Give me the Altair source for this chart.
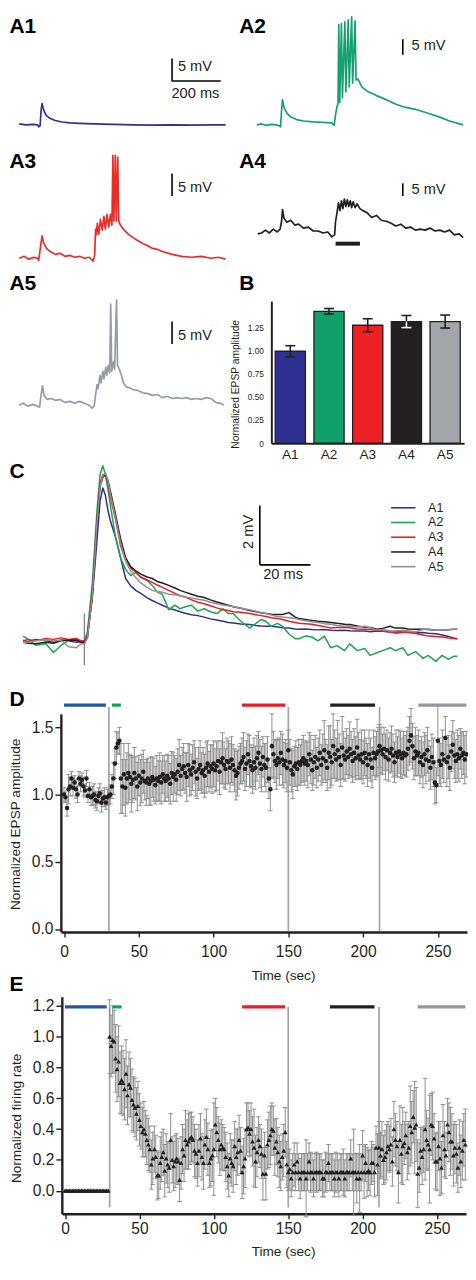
import altair as alt
import pandas as pd

# ======================= DATA =======================
# --- A panels: membrane potential traces (time in ms, mV above baseline)
A1_t = [0, 28, 56, 76, 80, 86, 90, 94, 98, 104, 112, 128, 148, 176, 208, 248, 308, 388, 468, 548, 628, 708, 788, 848]
A1_v = [0.22, 0.0, 0.1, 0.0, -0.43, -0.2, 3.26, 4.78, 3.9, 2.83, 2.07, 1.41, 0.98, 0.65, 0.43, 0.33, 0.22, 0.11, 0.0, -0.07, 0.0, -0.04, 0.0, 0.0]

A2_t = [0, 20, 40, 60, 80, 92, 98, 102, 106, 112, 124, 140, 164, 192, 232, 272, 308, 318, 324, 330,
        334, 337, 341, 348, 352, 362, 366, 376, 380, 390, 394, 404, 408, 416, 432, 452, 492, 532, 572, 612,
        652, 704, 752, 792, 848]
A2_v = [0.0, 0.3, -0.16, 0.16, 0.0, -0.3, -0.6, 4.7, 8.1, 5.6, 3.75, 2.5, 1.7, 1.25, 0.94, 0.78, 0.63, -0.16, 3.4, 5.9,
        6.9, 32.2, 7.2, 32.5, 8.75, 33.1, 10.6, 33.75, 12.2, 34.7, 13.4, 33.4, 14.4, 14.7, 12.2, 10.9, 9.4, 8.1, 6.6, 5.6,
        5.0, 3.75, 2.5, 1.25, 0.0]

A3_t = [0, 20, 40, 60, 76, 80, 90, 94, 100, 112, 128, 148, 168, 188, 208, 228, 248, 268, 288, 304,
        310, 314, 317, 321, 327, 334, 341, 348, 354, 361, 368, 375, 381, 385, 389, 395, 399, 405, 409, 416,
        428, 448, 468, 488, 508, 528, 548, 568, 588, 628, 668, 708, 748, 788, 820, 848]
A3_v = [0.0, 0.43, -0.2, 0.2, 0.0, -0.43, 3.5, 5.0, 3.5, 2.2, 1.5, 0.87, 1.1, 0.43, 0.65, 0.22, 0.43, 0.0, 0.22, -0.65,
        0.65, 6.5, 5.2, 7.8, 5.4, 8.7, 6.3, 9.35, 6.5, 9.8, 7.0, 9.8, 7.4, 23.0, 8.3, 23.0, 8.3, 22.6, 8.3, 7.4,
        6.5, 5.4, 4.6, 3.9, 3.3, 2.8, 2.2, 2.0, 1.5, 0.87, 0.43, 0.22, 0.43, 0.0, 0.22, -0.2]

A4_t = [4, 20, 36, 52, 68, 84, 96, 102, 106, 112, 124, 140, 156, 172, 192, 212, 232, 252, 272, 292,
        308, 320, 324, 330, 336, 342, 348, 354, 360, 366, 372, 378, 384, 390, 396, 404, 412, 424, 436, 452,
        472, 492, 512, 532, 552, 572, 592, 612, 632, 652, 672, 692, 712, 732, 752, 772, 792, 812, 832, 848]
A4_v = [0.0, 0.38, 1.5, 0.38, 1.9, 0.77, 1.9, 5.0, 9.6, 6.2, 4.6, 5.4, 3.5, 3.85, 2.3, 2.7, 1.15, 1.15, 0.38, 0.77,
        -1.15, -0.38, 5.0, 8.5, 12.3, 9.2, 13.1, 10.0, 13.8, 10.8, 13.5, 10.8, 13.1, 10.4, 12.7, 10.4, 11.9, 10.0, 9.2, 8.5,
        6.5, 7.3, 5.4, 5.0, 4.2, 3.1, 3.85, 2.3, 2.7, 1.5, 1.9, 1.5, 2.3, 1.15, 1.5, 0.77, 1.5, -0.38, 0.0, -1.5]
A4_stim = [324, 424]   # ms, black bar under A4

A5_t = [0, 16, 36, 56, 76, 84, 90, 96, 102, 116, 132, 148, 168, 188, 208, 228, 248, 268, 288, 300,
        308, 314, 320, 324, 332, 336, 344, 348, 356, 360, 366, 372, 376, 380, 388, 392, 400, 404, 412, 420,
        428, 440, 452, 468, 488, 508, 528, 548, 568, 588, 608, 628, 648, 668, 688, 708, 728, 748, 768, 788,
        808, 828, 840]
A5_v = [0.0, 0.43, -0.2, 0.2, -0.2, -0.43, 2.4, 4.35, 2.2, 1.3, 1.5, 1.1, 1.3, 0.65, 0.87, 0.43, 0.87, 0.43, 0.0, -0.65,
        -0.2, 2.4, 4.6, 3.7, 6.7, 5.0, 7.6, 5.9, 8.5, 6.7, 8.9, 7.2, 22.6, 7.6, 9.8, 8.0, 23.5, 8.9, 8.0, 6.7,
        5.0, 4.1, 3.9, 3.5, 3.3, 2.8, 2.6, 2.2, 2.4, 1.7, 2.0, 1.5, 1.7, 1.5, 1.7, 1.3, 1.5, 1.3, 1.7, 1.5,
        0.65, 0.43, 0.0]

# --- B: bar chart
B_labels = ["A1", "A2", "A3", "A4", "A5"]
B_values = [0.99, 1.42, 1.27, 1.31, 1.31]
B_errors = [0.06, 0.03, 0.07, 0.065, 0.07]
B_ticks = [0, 0.25, 0.5, 0.75, 1.0, 1.25]

# --- C: averaged EPSPs (ms, mV)
C_names = ["A1", "A2", "A3", "A4", "A5"]
C_t = [0, 2, 5, 9, 12, 15, 18, 21, 23, 24.2,
       25.4, 27.3, 29.2, 30.4, 31.5, 32.5, 33.5, 34.6, 36.5, 38.5,
       40.5, 42.5, 44.5, 46.5, 49, 51, 53, 55, 57.5, 60,
       62, 64, 66.5, 69, 71.5, 74, 76.5, 79, 81, 83,
       86, 89.5, 92, 94, 96, 98, 100.5, 102.5, 105, 107.5,
       109, 111.5, 114, 116.5, 119, 121.5, 124, 127, 129, 132,
       135, 137, 140, 142, 145, 147, 150, 152, 155, 158,
       160, 163, 165.5, 168, 170, 171.5]
C_A1 = [0.02, -0.03, 0.05, 0.0, -0.05, 0.03, 0.0, -0.05, -0.03, -0.1,
        0.2, 1.4, 3.4, 4.7, 5.15, 4.9, 4.4, 4.0, 3.5, 2.8,
        2.1, 1.85, 1.7, 1.6, 1.45, 1.36, 1.28, 1.2, 1.1, 1.04,
        0.98, 0.93, 0.88, 0.85, 0.8, 0.74, 0.7, 0.66, 0.62, 0.6,
        0.57, 0.55, 0.52, 0.5, 0.49, 0.49, 0.47, 0.44, 0.43, 0.4,
        0.39, 0.4, 0.38, 0.37, 0.38, 0.36, 0.35, 0.36, 0.34, 0.33,
        0.33, 0.31, 0.33, 0.32, 0.3, 0.31, 0.3, 0.28, 0.27, 0.28,
        0.26, 0.24, 0.2, 0.15, 0.1, 0.07]
C_A2 = [0.16, 0.05, -0.15, -0.1, -0.39, -0.15, 0.02, 0.06, -0.05, 0.0,
        0.3, 1.9, 4.4, 5.6, 5.9, 5.6, 5.1, 4.5, 3.5, 2.8,
        2.4, 2.2, 2.3, 2.13, 2.03, 1.87, 1.64, 1.57, 1.05, 1.2,
        1.08, 1.15, 1.2, 1.0, 1.08, 0.98, 0.92, 1.08, 0.92, 0.92,
        0.66, 0.43, 0.59, 0.72, 0.65, 0.49, 0.59, 0.49, 0.23, 0.07,
        0.07, 0.16, 0.13, 0.0, 0.16, -0.23, -0.16, -0.33, -0.1, -0.33,
        -0.26, -0.49, -0.39, -0.33, -0.23, -0.33, -0.23, -0.49, -0.36, -0.59,
        -0.49, -0.69, -0.49, -0.62, -0.52, -0.52]
C_A3 = [0.0, 0.05, 0.0, 0.08, 0.05, 0.1, 0.05, 0.08, 0.0, 0.0,
        0.15, 1.6, 4.1, 5.3, 5.6, 5.6, 5.3, 4.8, 4.1, 3.2,
        2.7, 2.45, 2.3, 2.15, 2.05, 1.97, 1.88, 1.8, 1.7, 1.6,
        1.52, 1.48, 1.38, 1.3, 1.25, 1.18, 1.11, 1.05, 1.02, 0.98,
        0.96, 0.92, 0.88, 0.85, 0.82, 0.78, 0.75, 0.72, 0.66, 0.62,
        0.59, 0.58, 0.56, 0.52, 0.48, 0.43, 0.45, 0.46, 0.44, 0.4,
        0.39, 0.38, 0.36, 0.33, 0.3, 0.26, 0.28, 0.3, 0.25, 0.2,
        0.16, 0.15, 0.13, 0.1, 0.08, 0.07]
C_A4 = [-0.05, -0.08, -0.1, -0.05, -0.08, 0.0, 0.03, 0.02, -0.05, -0.05,
        0.1, 1.5, 4.0, 5.2, 5.5, 5.6, 5.4, 5.0, 4.26, 3.44,
        2.8, 2.5, 2.36, 2.25, 2.15, 2.1, 2.0, 1.95, 1.87, 1.78,
        1.7, 1.64, 1.57, 1.5, 1.46, 1.38, 1.31, 1.25, 1.2, 1.15,
        1.1, 1.02, 0.98, 0.95, 0.92, 0.9, 0.89, 0.89, 0.95, 0.8,
        0.75, 0.72, 0.69, 0.66, 0.64, 0.62, 0.59, 0.56, 0.55, 0.5,
        0.46, 0.45, 0.39, 0.42, 0.49, 0.43, 0.43, 0.4, 0.39, 0.39,
        0.38, 0.36, 0.36, 0.37, 0.39, 0.39]
C_A5 = [-0.05, -0.05, 0.0, 0.03, 0.0, 0.02, -0.2, -0.23, -0.1, -0.1,
        0.1, 1.5, 4.0, 5.2, 5.55, 5.67, 5.4, 4.9, 4.16, 3.28,
        2.7, 2.35, 2.13, 1.95, 1.8, 1.7, 1.66, 1.64, 1.57, 1.55,
        1.52, 1.48, 1.44, 1.4, 1.37, 1.3, 1.25, 1.21, 1.18, 1.16,
        1.1, 1.05, 1.0, 0.95, 0.92, 0.87, 0.82, 0.8, 0.78, 0.75,
        0.72, 0.68, 0.64, 0.62, 0.58, 0.56, 0.52, 0.49, 0.5, 0.47,
        0.49, 0.44, 0.36, 0.38, 0.33, 0.33, 0.36, 0.34, 0.3, 0.39,
        0.4, 0.36, 0.36, 0.38, 0.39, 0.39]
C_stim_t = 24.2

# --- D / E: time courses (one point per second)
T_sec = list(range(270))
epoch_start = [0, 32, 119, 178, 237]
epoch_end = [28, 38, 148, 208, 269]
stim_times = [30, 150, 211]
time_ticks = [0, 50, 100, 150, 200, 250]
D_ticks = [0.0, 0.5, 1.0, 1.5]
E_ticks = [0.0, 0.2, 0.4, 0.6, 0.8, 1.0, 1.2]

D_mean = [1.00, 0.98, 0.90, 1.04, 1.06, 1.12, 1.05, 1.09, 1.04, 1.00,
          1.12, 1.08, 1.11, 1.06, 1.03, 1.12, 0.99, 1.04, 0.98, 0.99,
          1.00, 0.96, 0.95, 0.99, 1.01, 0.94, 0.97, 0.98, 0.94, 0.98,
          0.99, 1.00, 1.06, 1.12, 1.23, 1.35, 1.38, 1.40, 1.12, 1.06,
          1.15, 1.05, 1.12, 1.16, 1.13, 1.08, 1.11, 1.16, 1.12, 1.06,
          1.14, 1.09, 1.12, 1.17, 1.10, 1.09, 1.12, 1.08, 1.10, 1.13,
          1.11, 1.07, 1.12, 1.10, 1.13, 1.09, 1.15, 1.12, 1.10, 1.14,
          1.12, 1.08, 1.16, 1.13, 1.15, 1.11, 1.17, 1.22, 1.14, 1.19,
          1.21, 1.16, 1.13, 1.22, 1.18, 1.15, 1.20, 1.24, 1.17, 1.12,
          1.19, 1.22, 1.16, 1.18, 1.14, 1.20, 1.23, 1.17, 1.21, 1.19,
          1.23, 1.18, 1.21, 1.25, 1.17, 1.24, 1.27, 1.22, 1.19, 1.25,
          1.24, 1.20, 1.26, 1.22, 1.18, 1.14, 1.16, 1.20, 1.23, 1.25,
          1.28, 1.19, 1.23, 1.30, 1.25, 1.21, 1.18, 1.24, 1.20, 1.27,
          1.31, 1.23, 1.19, 1.28, 1.22, 1.20, 1.26, 1.12, 1.04, 1.36,
          1.30, 1.25, 1.22, 1.27, 1.24, 1.31, 1.26, 1.22, 1.25, 1.20,
          1.33, 1.24, 1.18, 1.15, 1.21, 1.23, 1.19, 1.24, 1.22, 1.25,
          1.27, 1.23, 1.25, 1.22, 1.30, 1.26, 1.18, 1.24, 1.28, 1.20,
          1.26, 1.31, 1.22, 1.27, 1.33, 1.25, 1.20, 1.31, 1.28, 1.24,
          1.36, 1.30, 1.26, 1.33, 1.28, 1.22, 1.35, 1.29, 1.26, 1.32,
          1.28, 1.34, 1.30, 1.25, 1.31, 1.27, 1.35, 1.29, 1.26, 1.30,
          1.24, 1.31, 1.27, 1.22, 1.30, 1.26, 1.20, 1.31, 1.27, 1.30,
          1.32, 1.36, 1.33, 1.30, 1.34, 1.28, 1.33, 1.26, 1.31, 1.34,
          1.29, 1.24, 1.31, 1.28, 1.32, 1.30, 1.27, 1.31, 1.29, 1.30,
          1.34, 1.40, 1.44, 1.36, 1.27, 1.32, 1.29, 1.31, 1.24, 1.28,
          1.22, 1.30, 1.26, 1.33, 1.25, 1.20, 1.28, 1.24, 1.09, 1.07,
          1.40, 1.25, 1.22, 1.30, 1.26, 1.42, 1.24, 1.28, 1.20, 1.32,
          1.37, 1.29, 1.25, 1.30, 1.27, 1.34, 1.29, 1.31, 1.26, 1.30]
D_err = [0.05, 0.04, 0.06, 0.11, 0.07, 0.05, 0.06, 0.05, 0.07, 0.06,
         0.05, 0.06, 0.05, 0.07, 0.05, 0.06, 0.05, 0.05, 0.06, 0.07,
         0.08, 0.06, 0.07, 0.06, 0.07, 0.07, 0.06, 0.07, 0.05, 0.06,
         0.06, 0.07, 0.09, 0.12, 0.11, 0.12, 0.08, 0.10, 0.26, 0.20,
         0.23, 0.21, 0.19, 0.22, 0.17, 0.21, 0.17, 0.19, 0.16, 0.18,
         0.15, 0.17, 0.18, 0.16, 0.14, 0.17, 0.15, 0.16, 0.18, 0.15,
         0.16, 0.14, 0.17, 0.15, 0.18, 0.16, 0.14, 0.17, 0.15, 0.16,
         0.17, 0.15, 0.16, 0.18, 0.14, 0.16, 0.17, 0.19, 0.15, 0.16,
         0.17, 0.15, 0.18, 0.16, 0.19, 0.15, 0.17, 0.16, 0.18, 0.15,
         0.16, 0.18, 0.15, 0.17, 0.16, 0.19, 0.17, 0.15, 0.16, 0.18,
         0.17, 0.16, 0.18, 0.15, 0.17, 0.16, 0.19, 0.17, 0.15, 0.17,
         0.16, 0.18, 0.17, 0.15, 0.16, 0.18, 0.17, 0.16, 0.15, 0.17,
         0.18, 0.16, 0.17, 0.15, 0.19, 0.16, 0.17, 0.18, 0.16, 0.17,
         0.16, 0.18, 0.17, 0.15, 0.16, 0.18, 0.17, 0.15, 0.16, 0.24,
         0.17, 0.16, 0.18, 0.15, 0.17, 0.16, 0.19, 0.17, 0.16, 0.18,
         0.15, 0.17, 0.16, 0.18, 0.15, 0.17, 0.16, 0.17, 0.15, 0.16,
         0.17, 0.16, 0.15, 0.17, 0.16, 0.18, 0.15, 0.17, 0.16, 0.15,
         0.16, 0.17, 0.15, 0.18, 0.22, 0.16, 0.17, 0.20, 0.23, 0.17,
         0.24, 0.18, 0.16, 0.22, 0.17, 0.16, 0.23, 0.18, 0.16, 0.17,
         0.16, 0.20, 0.17, 0.16, 0.18, 0.16, 0.21, 0.17, 0.15, 0.18,
         0.16, 0.17, 0.15, 0.16, 0.18, 0.16, 0.15, 0.17, 0.16, 0.17,
         0.18, 0.16, 0.17, 0.15, 0.16, 0.17, 0.15, 0.16, 0.15, 0.17,
         0.16, 0.15, 0.17, 0.15, 0.16, 0.17, 0.15, 0.16, 0.15, 0.17,
         0.16, 0.18, 0.20, 0.17, 0.16, 0.18, 0.15, 0.17, 0.16, 0.15,
         0.17, 0.16, 0.18, 0.17, 0.15, 0.16, 0.17, 0.18, 0.16, 0.13,
         0.26, 0.17, 0.16, 0.18, 0.17, 0.16, 0.18, 0.16, 0.17, 0.15,
         0.18, 0.17, 0.16, 0.18, 0.17, 0.15, 0.17, 0.16, 0.18, 0.17]

E_mean = [0.0, 0.0, 0.0, 0.0, 0.0, 0.0, 0.0, 0.0, 0.0, 0.0,
          0.0, 0.0, 0.0, 0.0, 0.0, 0.0, 0.0, 0.0, 0.0, 0.0,
          0.0, 0.0, 0.0, 0.0, 0.0, 0.0, 0.0, 0.0, 0.0, 0.0,
          1.00, 0.94, 0.98, 0.97, 0.86, 0.79, 0.84, 0.70, 0.72, 0.70,
          0.66, 0.76, 0.62, 0.69, 0.67, 0.59, 0.56, 0.54, 0.50, 0.55,
          0.46, 0.42, 0.38, 0.40, 0.37, 0.33, 0.30, 0.27, 0.17, 0.21,
          0.27, 0.22, 0.10, 0.10, 0.18, 0.22, 0.25, 0.13, 0.21, 0.17,
          0.15, 0.33, 0.20, 0.16, 0.19, 0.21, 0.19, 0.07, 0.18, 0.27,
          0.23, 0.33, 0.30, 0.32, 0.34, 0.35, 0.33, 0.26, 0.24, 0.18,
          0.26, 0.34, 0.22, 0.18, 0.30, 0.35, 0.27, 0.18, 0.21, 0.23,
          0.27, 0.43, 0.38, 0.33, 0.27, 0.30, 0.28, 0.27, 0.22, 0.16,
          0.10, 0.21, 0.18, 0.16, 0.29, 0.22, 0.25, 0.33, 0.26, 0.12,
          0.16, 0.21, 0.40, 0.41, 0.37, 0.40, 0.32, 0.28, 0.19, 0.25,
          0.33, 0.29, 0.24, 0.11, 0.23, 0.11, 0.30, 0.33, 0.36, 0.40,
          0.39, 0.28, 0.32, 0.25, 0.19, 0.16, 0.22, 0.26, 0.38, 0.17,
          0.12, 0.14, 0.08, 0.12, 0.17, 0.12, 0.19, 0.12, 0.08, 0.12,
          0.12, 0.12, 0.08, 0.12, 0.19, 0.12, 0.12, 0.08, 0.12, 0.12,
          0.12, 0.12, 0.12, 0.08, 0.08, 0.12, 0.12, 0.18, 0.12, 0.12,
          0.12, 0.08, 0.12, 0.12, 0.08, 0.12, 0.12, 0.12, 0.08, 0.12,
          0.12, 0.12, 0.21, 0.12, 0.12, 0.12, 0.08, 0.12, 0.08, 0.12,
          0.23, 0.12, 0.18, 0.12, 0.13, 0.12, 0.18, 0.18, 0.12, 0.28,
          0.17, 0.28, 0.23, 0.27, 0.20, 0.22, 0.25, 0.29, 0.27, 0.30,
          0.19, 0.40, 0.33, 0.29, 0.12, 0.33, 0.24, 0.29, 0.31, 0.36,
          0.25, 0.28, 0.42, 0.38, 0.48, 0.41, 0.43, 0.11, 0.15, 0.26,
          0.22, 0.27, 0.40, 0.33, 0.30, 0.27, 0.43, 0.42, 0.34, 0.19,
          0.19, 0.29, 0.21, 0.15, 0.36, 0.27, 0.23, 0.43, 0.38, 0.32,
          0.32, 0.23, 0.28, 0.24, 0.15, 0.28, 0.19, 0.26, 0.33, 0.30]
E_err = [0.0, 0.0, 0.0, 0.0, 0.0, 0.0, 0.0, 0.0, 0.0, 0.0,
         0.0, 0.0, 0.0, 0.0, 0.0, 0.0, 0.0, 0.0, 0.0, 0.0,
         0.0, 0.0, 0.0, 0.0, 0.0, 0.0, 0.0, 0.0, 0.0, 0.0,
         0.24, 0.20, 0.22, 0.20, 0.22, 0.21, 0.23, 0.20, 0.22, 0.21,
         0.20, 0.22, 0.19, 0.21, 0.19, 0.20, 0.18, 0.19, 0.17, 0.16,
         0.17, 0.15, 0.16, 0.18, 0.15, 0.16, 0.17, 0.15, 0.16, 0.17,
         0.15, 0.14, 0.16, 0.15, 0.17, 0.16, 0.15, 0.17, 0.16, 0.15,
         0.16, 0.17, 0.15, 0.16, 0.17, 0.16, 0.15, 0.14, 0.17, 0.16,
         0.17, 0.19, 0.16, 0.18, 0.17, 0.16, 0.15, 0.17, 0.16, 0.15,
         0.17, 0.16, 0.15, 0.17, 0.16, 0.18, 0.17, 0.16, 0.18, 0.17,
         0.30, 0.17, 0.16, 0.15, 0.17, 0.16, 0.15, 0.14, 0.16, 0.15,
         0.14, 0.16, 0.15, 0.17, 0.16, 0.18, 0.15, 0.16, 0.15, 0.17,
         0.18, 0.19, 0.17, 0.16, 0.15, 0.17, 0.16, 0.25, 0.17, 0.16,
         0.15, 0.14, 0.16, 0.17, 0.15, 0.17, 0.16, 0.18, 0.19, 0.17,
         0.16, 0.18, 0.15, 0.16, 0.17, 0.16, 0.15, 0.17, 0.16, 0.15,
         0.12, 0.13, 0.12, 0.12, 0.14, 0.12, 0.12, 0.12, 0.13, 0.12,
         0.12, 0.12, 0.25, 0.12, 0.12, 0.13, 0.12, 0.12, 0.12, 0.13,
         0.12, 0.12, 0.12, 0.12, 0.12, 0.13, 0.12, 0.12, 0.12, 0.12,
         0.12, 0.12, 0.13, 0.12, 0.12, 0.12, 0.12, 0.15, 0.12, 0.12,
         0.12, 0.12, 0.12, 0.12, 0.28, 0.12, 0.16, 0.12, 0.22, 0.12,
         0.16, 0.17, 0.12, 0.16, 0.13, 0.15, 0.14, 0.12, 0.16, 0.14,
         0.20, 0.17, 0.15, 0.18, 0.16, 0.17, 0.18, 0.16, 0.15, 0.17,
         0.16, 0.18, 0.17, 0.16, 0.20, 0.22, 0.19, 0.25, 0.14, 0.15,
         0.18, 0.17, 0.26, 0.20, 0.17, 0.30, 0.24, 0.22, 0.16, 0.15,
         0.18, 0.15, 0.33, 0.19, 0.17, 0.35, 0.20, 0.22, 0.16, 0.18,
         0.19, 0.16, 0.24, 0.17, 0.20, 0.18, 0.15, 0.17, 0.19, 0.22,
         0.18, 0.20, 0.17, 0.19, 0.16, 0.18, 0.17, 0.19, 0.17, 0.23]

for arr in (D_mean, D_err, E_mean, E_err):
    assert len(arr) == len(T_sec), len(arr)
for arr in (C_A1, C_A2, C_A3, C_A4, C_A5):
    assert len(arr) == len(C_t), len(arr)

# ======================= LAYOUT / STYLE =======================
W, H = 464, 1256
KX = 464 / 472.5
KY = 1255 / 1278.0
K = 0.982
FONT = "Liberation Sans"
INK = "#231f20"


def X(rx):
    return (rx - 1.5) * KX


def Y(ry):
    return (ry - 0.5) * KY


def xs(dom, r0, r1):
    return alt.Scale(domain=dom, range=[X(r0), X(r1)], nice=False, zero=False)


def ys(dom, r0, r1):
    return alt.Scale(domain=dom, range=[Y(r0), Y(r1)], nice=False, zero=False)


layers = []

# ---------- panel letters ----------
panel_letters = [("A1", 3, 20.5), ("A2", 239, 20.5), ("A3", 3, 159), ("A4", 239, 159),
                 ("A5", 3, 285), ("B", 239, 285), ("C", 3, 478), ("D", 3, 712), ("E", 3, 1005)]
for lab, rx, ry in panel_letters:
    layers.append(alt.Chart(pd.DataFrame({"s": [lab]})).mark_text(
        align="left", baseline="alphabetic", font=FONT, fontWeight="bold", fontSize=21.5 * K, color="black"
    ).encode(x=alt.value(X(rx)), y=alt.value(Y(ry)), text="s:N"))

# ---------- A panels ----------
A_cfg = [
    # trace t, v, colour, left px, baseline px, px per mV, scale-bar (t, v), label (t, v)
    (A1_t, A1_v, "#2e3192", 13, 115, 4.6, (628, 9.8), (652, 12.9)),
    (A2_t, A2_v, "#15a070", 257, 115, 3.2, (600, 22.5), (636, 25.3)),
    (A3_t, A3_v, "#ee2a26", 13, 252, 4.6, (628, 13.9), (652, 15.7)),
    (A4_t, A4_v, INK, 257, 227, 2.6, (600, 15.0), (636, 17.3)),
    (A5_t, A5_v, "#959ca3", 13, 403, 4.6, (628, 13.7), (652, 15.4)),
]
for i, (tt, vv, col, x0, base, ppm, (bt, bv), (lt, lv)) in enumerate(A_cfg):
    sx = xs([0, 850], x0, x0 + 850 / 4.0)
    sy = ys([0, 10], base, base - 10 * ppm)
    layers.append(alt.Chart(pd.DataFrame({"t": tt, "v": vv})).mark_line(
        color=col, strokeWidth=1.7, strokeJoin="round"
    ).encode(x=alt.X("t:Q", scale=sx, axis=None), y=alt.Y("v:Q", scale=sy, axis=None)))
    # 5 mV scale bar
    layers.append(alt.Chart(pd.DataFrame({"t": [bt], "v0": [bv], "v1": [bv + 5]})).mark_rule(
        color="black", strokeWidth=1.6
    ).encode(x=alt.X("t:Q", scale=sx, axis=None), y=alt.Y("v0:Q", scale=sy, axis=None), y2="v1:Q"))
    layers.append(alt.Chart(pd.DataFrame({"t": [lt], "v": [lv], "s": ["5 mV"]})).mark_text(
        align="left", baseline="middle", font=FONT, fontSize=15 * K, color=INK
    ).encode(x=alt.X("t:Q", scale=sx, axis=None), y=alt.Y("v:Q", scale=sy, axis=None), text="s:N"))
    if i == 0:
        # 200 ms bar
        layers.append(alt.Chart(pd.DataFrame({"t0": [bt], "t1": [bt + 200], "v": [bv]})).mark_rule(
            color="black", strokeWidth=1.6
        ).encode(x=alt.X("t0:Q", scale=sx, axis=None), x2="t1:Q", y=alt.Y("v:Q", scale=sy, axis=None)))
        layers.append(alt.Chart(pd.DataFrame({"t": [bt + 96], "v": [7.0], "s": ["200 ms"]})).mark_text(
            align="center", baseline="middle", font=FONT, fontSize=15 * K, color=INK
        ).encode(x=alt.X("t:Q", scale=sx, axis=None), y=alt.Y("v:Q", scale=sy, axis=None), text="s:N"))
    if i == 3:
        layers.append(alt.Chart(pd.DataFrame({"t0": [A4_stim[0]], "t1": [A4_stim[1]], "v": [-3.85]})).mark_rule(
            color=INK, strokeWidth=4
        ).encode(x=alt.X("t0:Q", scale=sx, axis=None), x2="t1:Q", y=alt.Y("v:Q", scale=sy, axis=None)))

# ---------- B ----------
B_colors = ["#2e3192", "#12a06a", "#ed2024", INK, "#a2a6aa"]
bx = alt.Scale(domain=B_labels, range=[X(272), X(470)], paddingInner=0.22, paddingOuter=0.1)
by = ys([0, 1.53], 442, 296)
bdf = pd.DataFrame({"lab": B_labels, "val": B_values, "col": B_colors})
layers.append(alt.Chart(bdf).mark_bar(stroke=INK, strokeWidth=1.3).encode(
    x=alt.X("lab:N", scale=bx, axis=alt.Axis(
        orient="bottom", offset=Y(442) - H, ticks=False, tickSize=0, labelAngle=0,
        labelFontSize=14 * K, labelPadding=4, domainWidth=2, domainColor=INK, title=None)),
    y=alt.Y("val:Q", scale=by, axis=alt.Axis(
        orient="left", offset=-X(272), values=B_ticks, ticks=False, tickSize=0,
        labelExpr="datum.value == 0 ? '0' : format(datum.value, '.2f')",
        labelFontSize=8.5 * K, labelPadding=8, domainWidth=2, domainColor=INK,
        title="Normalized EPSP amplitude", titleFontSize=10.5 * K, titleFontWeight="normal",
        titlePadding=7, titleY=Y(381), labelOverlap=False, labelFlush=False)),
    color=alt.Color("col:N", scale=None),
))
bed = pd.DataFrame({
    "lab": B_labels,
    "lo": [v - e for v, e in zip(B_values, B_errors)],
    "mid": B_values,
    "hi": [v + e for v, e in zip(B_values, B_errors)],
    "lowcol": ["white" if l == "A4" else INK for l in B_labels],
})
layers.append(alt.Chart(bed).mark_rule(color=INK, strokeWidth=1.6).encode(
    x=alt.X("lab:N", scale=bx, axis=None), y=alt.Y("mid:Q", scale=by, axis=None), y2="hi:Q"))
layers.append(alt.Chart(bed).mark_rule(strokeWidth=1.6).encode(
    x=alt.X("lab:N", scale=bx, axis=None), y=alt.Y("lo:Q", scale=by, axis=None), y2="mid:Q",
    color=alt.Color("lowcol:N", scale=None)))
layers.append(alt.Chart(bed).mark_tick(orient="horizontal", size=10, thickness=1.6, color=INK, opacity=1).encode(
    x=alt.X("lab:N", scale=bx, axis=None), y=alt.Y("hi:Q", scale=by, axis=None)))
layers.append(alt.Chart(bed).mark_tick(orient="horizontal", size=10, thickness=1.6, opacity=1).encode(
    x=alt.X("lab:N", scale=bx, axis=None), y=alt.Y("lo:Q", scale=by, axis=None),
    color=alt.Color("lowcol:N", scale=None)))

# ---------- C ----------
C_colors = ["#2e3192", "#1aa64b", "#ed1c24", INK, "#8e9093"]
cx = xs([0, 171.5], 17, 463)
cy = ys([0, 5], 645, 492.5)
layers.append(alt.Chart(pd.DataFrame({"t": [C_stim_t], "v0": [-0.82], "v1": [0.92]})).mark_rule(
    color="#7c80a4", strokeWidth=1.3
).encode(x=alt.X("t:Q", scale=cx, axis=None), y=alt.Y("v0:Q", scale=cy, axis=None), y2="v1:Q"))
for vals, col in zip([C_A1, C_A2, C_A3, C_A4, C_A5], C_colors):
    layers.append(alt.Chart(pd.DataFrame({"t": C_t, "v": vals})).mark_line(
        color=col, strokeWidth=1.5, strokeJoin="round"
    ).encode(x=alt.X("t:Q", scale=cx, axis=None), y=alt.Y("v:Q", scale=cy, axis=None)))
# scale bars (2 mV, 20 ms)
layers.append(alt.Chart(pd.DataFrame({"t": [93.5], "v0": [2.56], "v1": [4.56]})).mark_rule(
    color="black", strokeWidth=1.6
).encode(x=alt.X("t:Q", scale=cx, axis=None), y=alt.Y("v0:Q", scale=cy, axis=None), y2="v1:Q"))
layers.append(alt.Chart(pd.DataFrame({"t0": [93.5], "t1": [113.5], "v": [2.56]})).mark_rule(
    color="black", strokeWidth=1.6
).encode(x=alt.X("t0:Q", scale=cx, axis=None), x2="t1:Q", y=alt.Y("v:Q", scale=cy, axis=None)))
layers.append(alt.Chart(pd.DataFrame({"t": [89.4], "v": [3.67], "s": ["2 mV"]})).mark_text(
    align="center", baseline="middle", angle=270, font=FONT, fontSize=15 * K, color=INK
).encode(x=alt.X("t:Q", scale=cx, axis=None), y=alt.Y("v:Q", scale=cy, axis=None), text="s:N"))
layers.append(alt.Chart(pd.DataFrame({"t": [102.7], "v": [2.2], "s": ["20 ms"]})).mark_text(
    align="center", baseline="middle", font=FONT, fontSize=15 * K, color=INK
).encode(x=alt.X("t:Q", scale=cx, axis=None), y=alt.Y("v:Q", scale=cy, axis=None), text="s:N"))
# legend
lg = pd.DataFrame({"row": list(range(len(C_names))), "name": C_names, "col": C_colors})
ly = ys([0, 4], 508.3, 568.8)
layers.append(alt.Chart(lg).mark_rule(strokeWidth=1.6).encode(
    x=alt.value(X(395)), x2=alt.value(X(420)), y=alt.Y("row:Q", scale=ly, axis=None),
    color=alt.Color("col:N", scale=None)))
layers.append(alt.Chart(lg).mark_text(align="left", baseline="middle", font=FONT, fontSize=12.8 * K, color=INK).encode(
    x=alt.value(X(433)), y=alt.Y("row:Q", scale=ly, axis=None), text="name:N"))

# ---------- D & E ----------
epoch_colors = ["#1c5aa6", "#0aa650", "#ec1c24", INK, "#939598"]
ep = pd.DataFrame({"s": epoch_start, "e": epoch_end, "col": epoch_colors})
st = pd.DataFrame({"t": stim_times})
ERR = "#8e8e8e"


def timecourse(mean, err, xsc, ysc, ytop_line, ybot_line, y_epoch, axis_y_px, axis_x_px,
               lab_pad, title_pad, yticks, ytitle, ytitle_px, shape):
    out = []
    df = pd.DataFrame({"t": T_sec, "m": mean,
                       "lo": [m - e for m, e in zip(mean, err)],
                       "hi": [m + e for m, e in zip(mean, err)]})
    out.append(alt.Chart(st).mark_rule(color="#a3a3a3", strokeWidth=1.7).encode(
        x=alt.X("t:Q", scale=xsc, axis=None), y=alt.value(Y(ytop_line)), y2=alt.value(Y(ybot_line))))
    out.append(alt.Chart(df).mark_rule(color=ERR, strokeWidth=1.0).encode(
        x=alt.X("t:Q", scale=xsc, axis=None), y=alt.Y("lo:Q", scale=ysc, axis=None), y2="hi:Q"))
    for f in ("lo", "hi"):
        out.append(alt.Chart(df).mark_tick(orient="horizontal", size=4.5, thickness=1.0, color=ERR, opacity=1).encode(
            x=alt.X("t:Q", scale=xsc, axis=None), y=alt.Y(f + ":Q", scale=ysc, axis=None)))
    xaxis = alt.Axis(orient="bottom", offset=Y(axis_y_px) - H, values=time_ticks, format="d",
                     tickSize=5, tickWidth=1.4, domainWidth=2.4, domainColor=INK, tickColor=INK,
                     labelFontSize=16 * K, labelPadding=lab_pad, labelFlush=False, labelOverlap=False,
                     title="Time (sec)", titleFontSize=14 * K, titleFontWeight="normal", titlePadding=title_pad,
                     titleX=X(284), grid=False)
    yaxis = alt.Axis(orient="left", offset=-X(axis_x_px), values=yticks, format=".1f",
                     tickSize=6, tickWidth=1.4, domainWidth=2.4, domainColor=INK, tickColor=INK,
                     labelFontSize=16 * K, labelPadding=2, labelFlush=False, labelOverlap=False,
                     title=ytitle, titleFontSize=14 * K, titleFontWeight="normal", titlePadding=9,
                     titleY=Y(ytitle_px), grid=False)
    if shape == "circle":
        mk = alt.Chart(df).mark_circle(size=21, color=INK, opacity=1)
    else:
        mk = alt.Chart(df).mark_point(shape="triangle-up", filled=True, size=24, color=INK, opacity=1)
    out.append(mk.encode(x=alt.X("t:Q", scale=xsc, axis=xaxis), y=alt.Y("m:Q", scale=ysc, axis=yaxis)))
    out.append(alt.Chart(ep).mark_rule(strokeWidth=3.2).encode(
        x=alt.X("s:Q", scale=xsc, axis=None), x2="e:Q", y=alt.value(Y(y_epoch)),
        color=alt.Color("col:N", scale=None)))
    return out


DX = xs([-2, 269.5], 56, 473)
DY = ys([-0.022, 1.6], 944, 720)
layers += timecourse(D_mean, D_err, DX, DY, 713, 943, 711, 944, 55.8, 8, 9, D_ticks,
                     "Normalized EPSP amplitude", 833, "circle")

EX = xs([-2, 269.5], 57, 472)
EY = ys([-0.15, 1.26], 1233.5, 1010.5)
layers += timecourse(E_mean, E_err, EX, EY, 1021, 1227, 1021, 1233.5, 56.8, 3, 8, E_ticks,
                     "Normalized  firing rate", 1135, "triangle")

chart = alt.layer(*layers).resolve_scale(
    x="independent", y="independent", color="independent"
).properties(
    width=W, height=H, autosize=alt.AutoSizeParams(type="none"), padding=0, background="white"
).configure_view(stroke=None).configure_axis(
    labelFont=FONT, titleFont=FONT, labelColor=INK, titleColor=INK, grid=False
)

chart.save("out.html", embed_options={"renderer": "svg", "actions": False})
